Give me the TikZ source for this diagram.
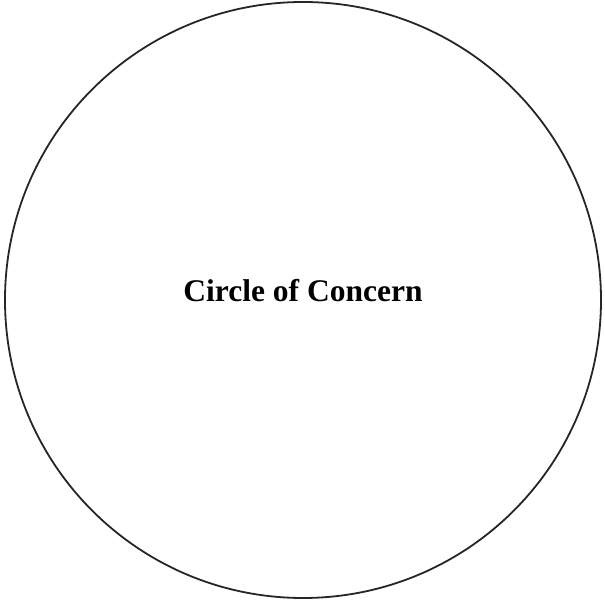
\documentclass[tikz,border=0pt]{standalone}
\usepackage{fontspec}
\setmainfont{Liberation Serif}
\begin{document}
\begin{tikzpicture}[x=1pt,y=1pt,
  ring/.style={draw=black!85,line width=1.8pt},
  label/.style={font=\bfseries\fontsize{31.5}{36}\selectfont,inner sep=0pt}]
\useasboundingbox (0,0) rectangle (605,602);
\node[ring,circle,minimum size=596pt,inner sep=0pt] (c) at (303,302) {};
\node[label,anchor=base] (t) at (303,300) {Circle of Concern};
\end{tikzpicture}
\end{document}
